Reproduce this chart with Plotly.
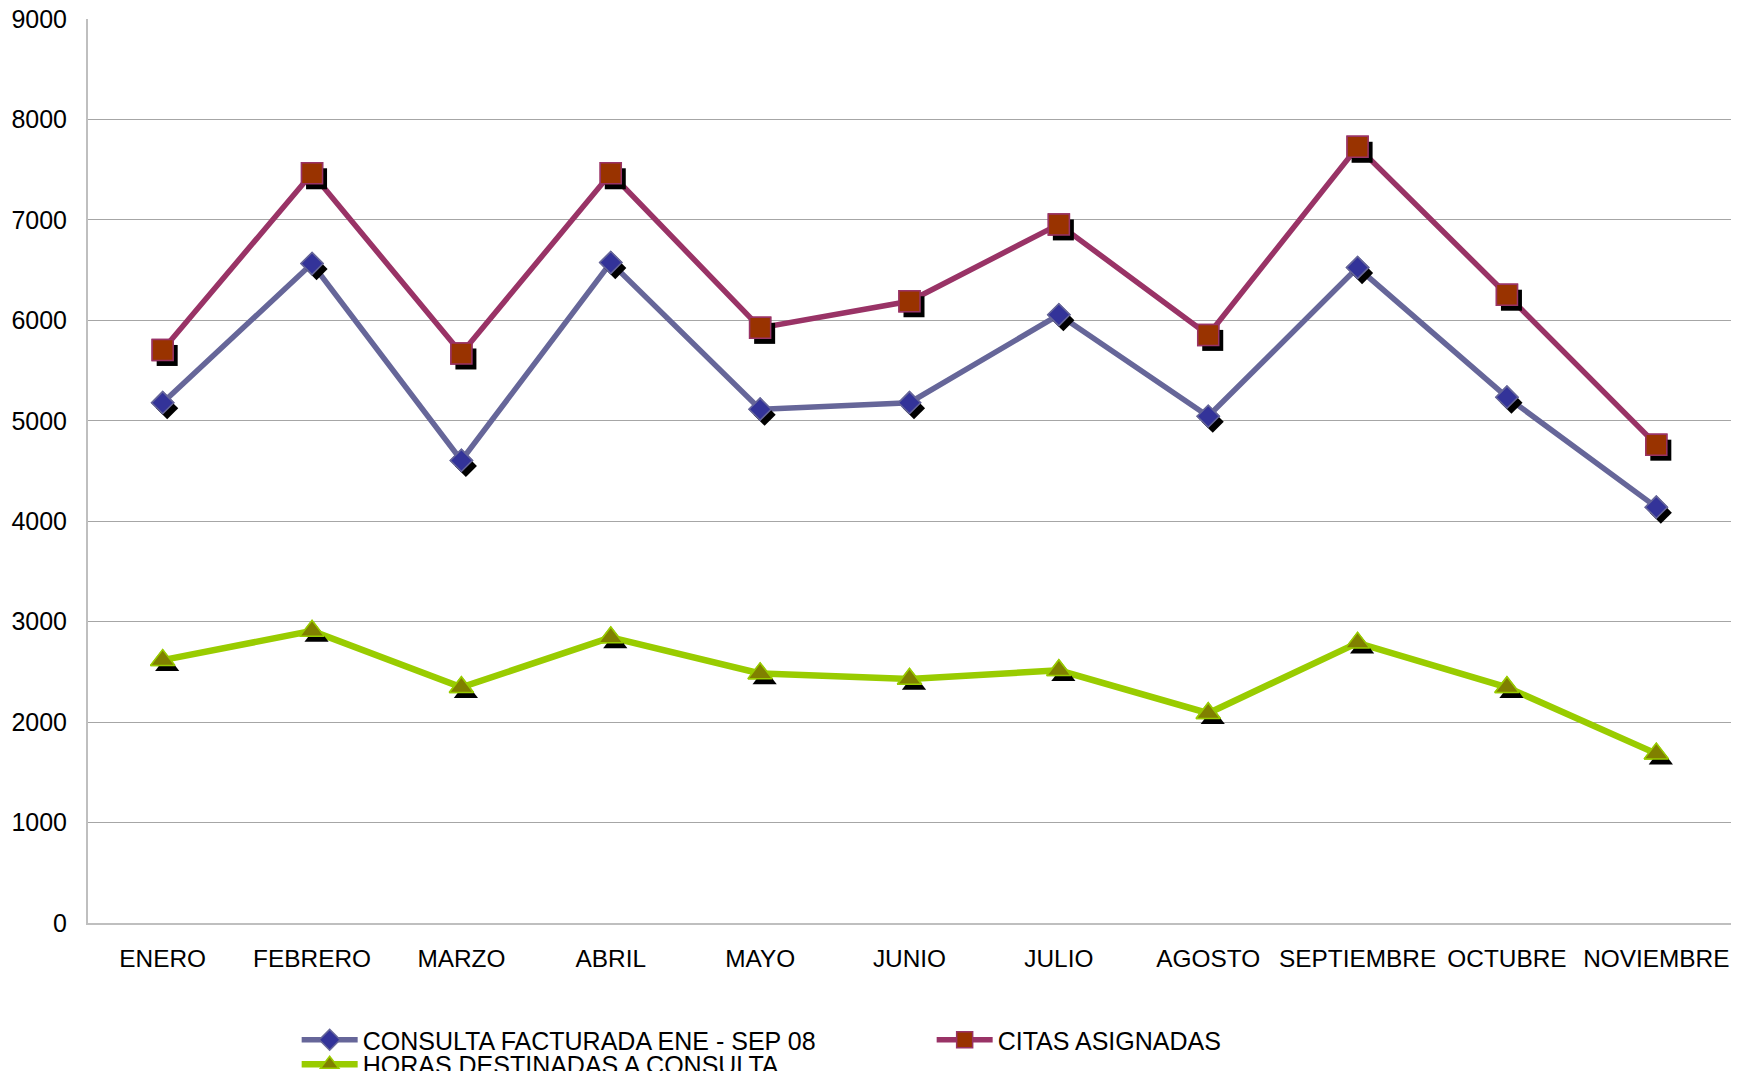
import plotly.graph_objects as go

months = ["ENERO", "FEBRERO", "MARZO", "ABRIL", "MAYO", "JUNIO", "JULIO",
          "AGOSTO", "SEPTIEMBRE", "OCTUBRE", "NOVIEMBRE"]
consulta_facturada = [5180, 6565, 4605, 6575, 5115, 5180, 6055, 5045, 6525, 5235, 4140]
citas_asignadas = [5705, 7464, 5670, 7464, 5925, 6190, 6955, 5855, 7728, 6255, 4762]
horas_consulta = [2617, 2908, 2347, 2843, 2485, 2429, 2516, 2089, 2789, 2347, 1686]
y_ticks = [0, 1000, 2000, 3000, 4000, 5000, 6000, 7000, 8000, 9000]

names = ["CONSULTA FACTURADA ENE - SEP 08", "CITAS ASIGNADAS", "HORAS DESTINADAS A CONSULTA"]
series = [consulta_facturada, citas_asignadas, horas_consulta]
legends = ["legend", "legend", "legend2"]

# styles
line_colors = ["#666699", "#993366", "#99CC00"]
fill_colors = ["#333399", "#993300", "#808000"]
symbols = ["diamond", "square", "triangle-up"]
sizes = [17, 21, 21]
line_widths = [5.5, 5.5, 6.5]
FONT = "Liberation Sans, Arial, sans-serif"
FS = 25
FS_X = 24.4

# page body has an 8px margin; figure sized to fill the 1740x1071 window exactly
W, H = 1732, 1063
ML, MR, MT, MB = 80, 9, 11, 148
plot_w = W - ML - MR
plot_h = H - MT - MB
x_unit_px = plot_w / 11.0
y_unit_px = plot_h / 9000.0
shadow_dx_px, shadow_dy_px = 4.5, 5.5

xs = list(range(len(months)))

fig = go.Figure()
for i in range(3):
    fig.add_trace(go.Scatter(
        x=xs, y=series[i], name=names[i], mode="lines+markers", legend=legends[i],
        line=dict(color=line_colors[i], width=line_widths[i]),
        marker=dict(symbol=symbols[i], size=sizes[i], color=fill_colors[i],
                    line=dict(color=line_colors[i], width=1.5)),
        hoverinfo="x+y",
    ))
for i in range(3):
    fig.add_trace(go.Scatter(
        x=[x + shadow_dx_px / x_unit_px for x in xs],
        y=[v - shadow_dy_px / y_unit_px for v in series[i]],
        mode="markers", showlegend=False, hoverinfo="skip",
        marker=dict(symbol=symbols[i], size=sizes[i], color="black"),
    ))
for i in range(3):
    fig.add_trace(go.Scatter(
        x=xs, y=series[i], mode="markers", showlegend=False, hoverinfo="skip",
        marker=dict(symbol=symbols[i], size=sizes[i], color=fill_colors[i],
                    line=dict(color=line_colors[i], width=1.5)),
    ))

legend_common = dict(orientation="h", x=0.127, xanchor="left", yanchor="top",
                     itemwidth=56, entrywidth=564, entrywidthmode="pixels",
                     font=dict(family=FONT, size=FS, color="black"),
                     bgcolor="rgba(0,0,0,0)", borderwidth=0)

fig.update_layout(
    width=W, height=H,
    margin=dict(l=ML, r=MR, t=MT, b=MB, pad=0, autoexpand=False),
    plot_bgcolor="white", paper_bgcolor="white",
    font=dict(family=FONT, size=FS, color="black"),
    xaxis=dict(range=[-0.5, 10.5], tickmode="array", tickvals=xs, ticktext=months,
               showgrid=False, showline=True, linecolor="#BFBFBF", linewidth=2,
               ticks="", zeroline=False, ticklabelstandoff=13, automargin=False,
               ticklabeloverflow="allow",
               tickfont=dict(family=FONT, size=FS_X, color="black")),
    yaxis=dict(range=[0, 9000], tickmode="array", tickvals=y_ticks,
               showgrid=True, gridcolor="#A6A6A6", gridwidth=1,
               showline=True, linecolor="#BFBFBF", linewidth=2,
               ticks="", zeroline=False, ticklabelstandoff=14, automargin=False,
               ticklabeloverflow="allow",
               tickfont=dict(family=FONT, size=FS, color="black")),
    legend=dict(y=-0.104, **legend_common),
    legend2=dict(y=-0.131, **legend_common),
    showlegend=True,
)

fig.write_html("out.html")
